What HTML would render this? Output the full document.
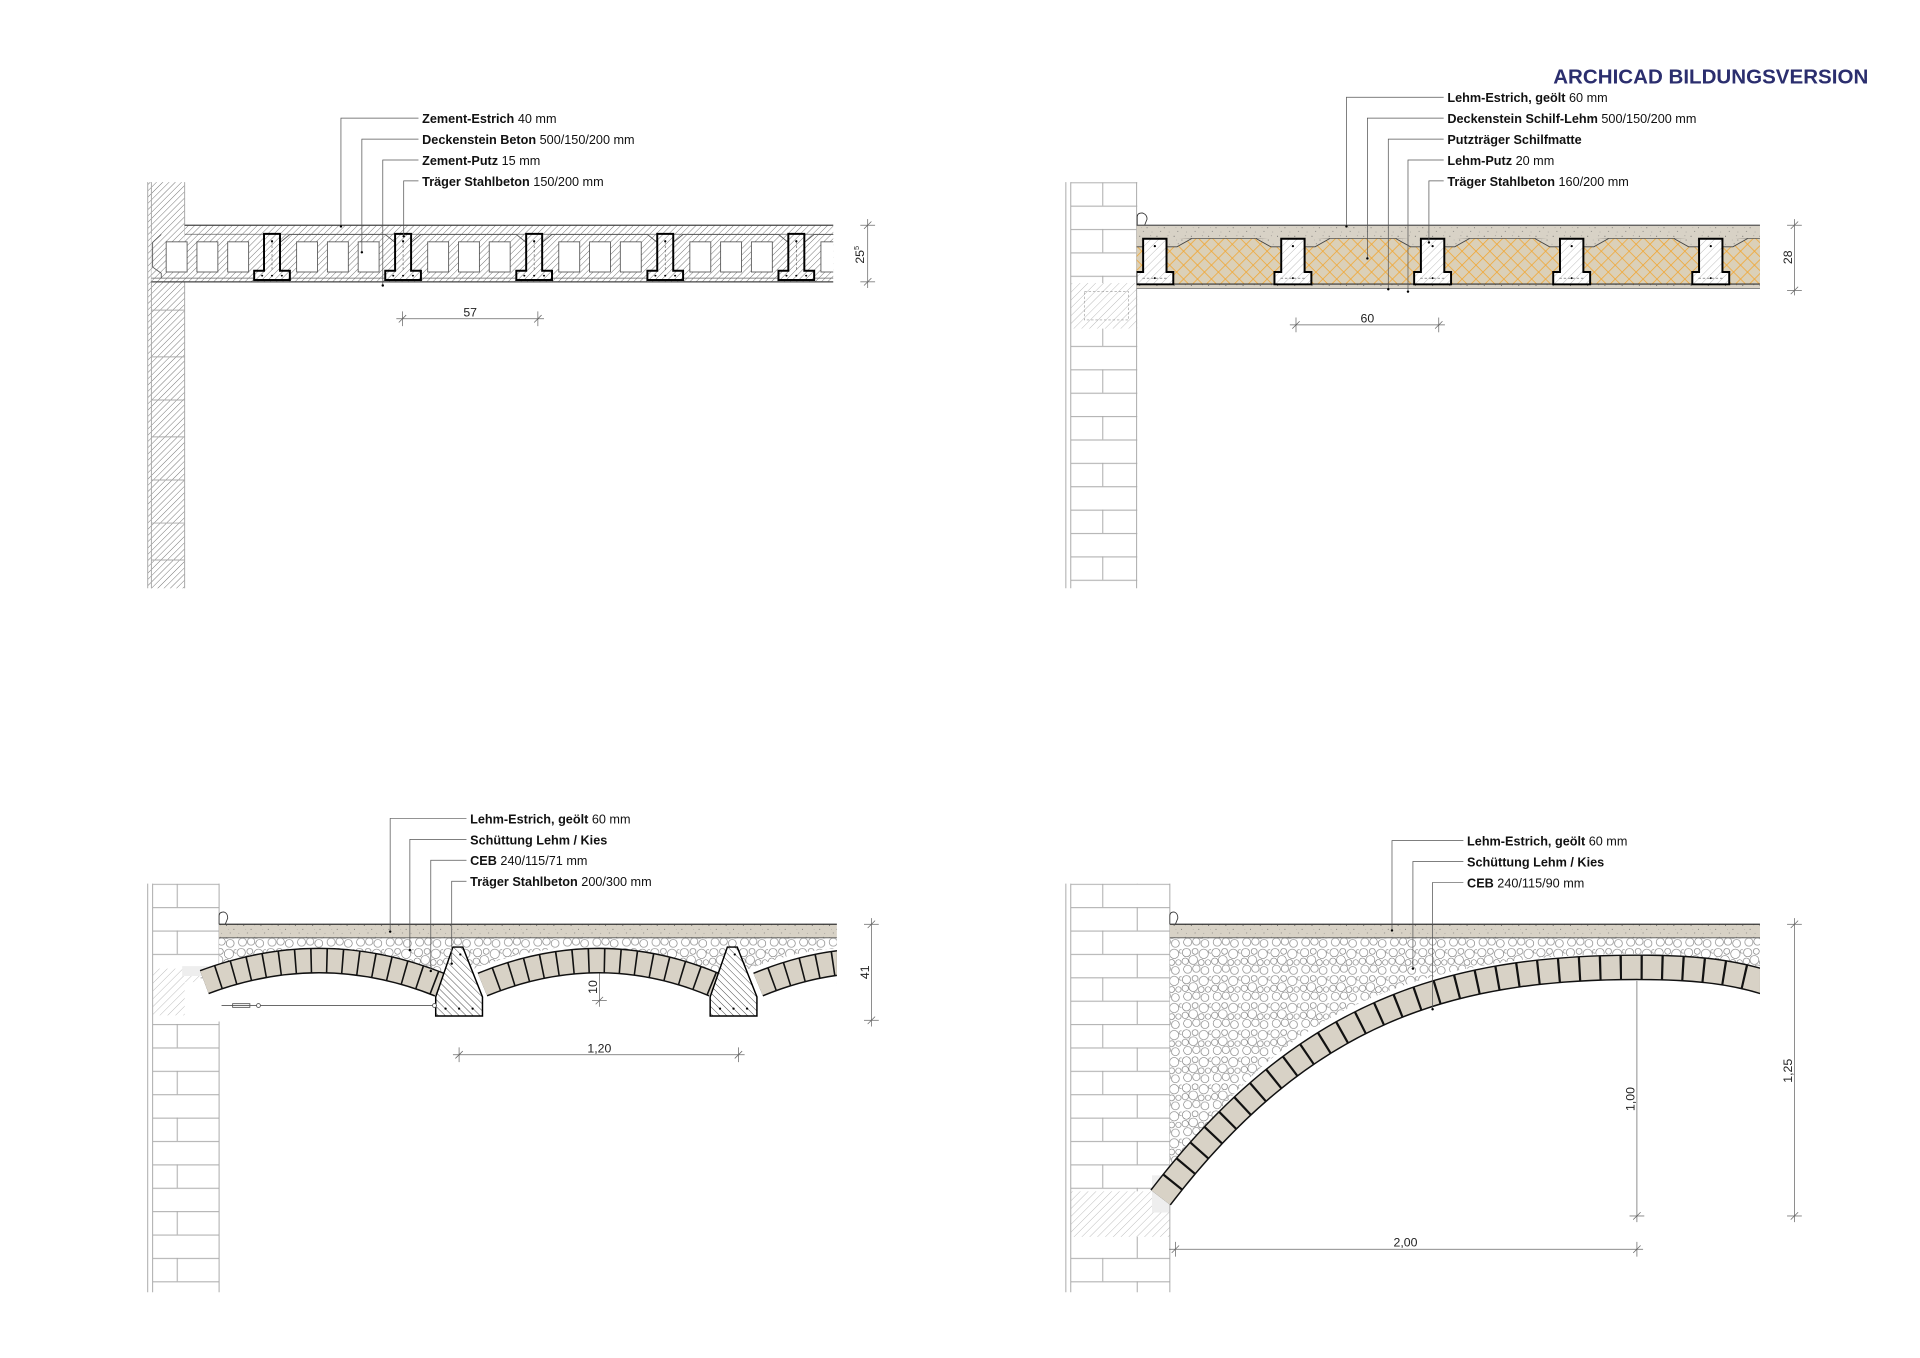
<!DOCTYPE html>
<html><head><meta charset="utf-8"><style>
html,body{margin:0;padding:0;background:#fff;}
svg{display:block;}
text{font-family:"Liberation Sans",sans-serif;}
</style></head><body>
<svg width="1920" height="1358" viewBox="0 0 1560 1103.4" xmlns="http://www.w3.org/2000/svg">
<defs>
<pattern id="h" width="3.6" height="3.6" patternUnits="userSpaceOnUse" patternTransform="rotate(45)"><rect width="3.6" height="3.6" fill="#fff"/><line x1="0" y1="0" x2="0" y2="3.6" stroke="#777" stroke-width="0.8"/></pattern>
<pattern id="hl" width="4.5" height="4.5" patternUnits="userSpaceOnUse" patternTransform="rotate(45)"><rect width="4.5" height="4.5" fill="#fff"/><line x1="0" y1="0" x2="0" y2="4.5" stroke="#a8a8a8" stroke-width="0.6"/></pattern>
<pattern id="hd" width="4" height="4" patternUnits="userSpaceOnUse" patternTransform="rotate(-45)"><rect width="4" height="4" fill="#fff"/><line x1="0" y1="0" x2="0" y2="4" stroke="#333" stroke-width="0.7"/></pattern>
<pattern id="sp" width="14" height="10" patternUnits="userSpaceOnUse"><rect width="14" height="10" fill="#d8d2c6"/><circle cx="2" cy="2" r="0.4" fill="#555"/><circle cx="8" cy="5" r="0.35" fill="#444"/><circle cx="11" cy="1.5" r="0.3" fill="#666"/><circle cx="5" cy="8" r="0.35" fill="#555"/><circle cx="12" cy="8.5" r="0.3" fill="#777"/><circle cx="3.5" cy="5" r="0.25" fill="#777"/></pattern>
<pattern id="gr" width="24" height="22" patternUnits="userSpaceOnUse"><rect width="24" height="22" fill="#fff"/><g fill="none" stroke="#666" stroke-width="0.45"><circle cx="4" cy="4" r="3.4"/><circle cx="11" cy="3" r="2.4"/><circle cx="18" cy="5" r="3.8"/><circle cx="3" cy="11" r="2.6"/><circle cx="9.5" cy="10" r="3.6"/><circle cx="16" cy="12" r="2.4"/><circle cx="21.5" cy="12" r="2.2"/><circle cx="5" cy="17.5" r="3.3"/><circle cx="12" cy="17" r="3"/><circle cx="19" cy="18.5" r="3.2"/><circle cx="23.5" cy="3" r="1.5"/></g></pattern>
<pattern id="yx" width="8" height="8" patternUnits="userSpaceOnUse" patternTransform="rotate(45)"><rect width="8" height="8" fill="#dbd0b8"/><line x1="0" y1="0" x2="8" y2="0" stroke="#f2a52e" stroke-width="1.2"/><line x1="0" y1="0" x2="0" y2="8" stroke="#f2a52e" stroke-width="1.2"/></pattern>
<pattern id="brA" width="84" height="38" patternUnits="userSpaceOnUse" x="866" y="148"><rect width="84" height="38" fill="#fff"/><g stroke="#aaa" stroke-width="0.8"><line x1="0" y1="0.5" x2="84" y2="0.5"/><line x1="0" y1="19.5" x2="84" y2="19.5"/><line x1="30" y1="0" x2="30" y2="19"/><line x1="58" y1="19" x2="58" y2="38"/></g></pattern>
<pattern id="brB" width="58" height="38" patternUnits="userSpaceOnUse" x="120" y="718"><rect width="58" height="38" fill="#fff"/><g stroke="#aaa" stroke-width="0.8"><line x1="0" y1="0.5" x2="58" y2="0.5"/><line x1="0" y1="19.5" x2="58" y2="19.5"/><line x1="24" y1="0" x2="24" y2="19"/></g></pattern>
<pattern id="brC" width="58" height="38" patternUnits="userSpaceOnUse" x="866" y="148"><rect width="58" height="38" fill="#fff"/><g stroke="#aaa" stroke-width="0.8"><line x1="0" y1="0.5" x2="58" y2="0.5"/><line x1="0" y1="19.5" x2="58" y2="19.5"/><line x1="30" y1="0" x2="30" y2="19"/></g></pattern>
<clipPath id="c1"><rect x="118" y="140" width="559" height="100"/></clipPath>
<clipPath id="c2"><rect x="923.5" y="140" width="506.5" height="100"/></clipPath>
<clipPath id="c3"><rect x="150" y="740" width="530" height="100"/></clipPath>
<clipPath id="c4"><rect x="930" y="740" width="500" height="260"/></clipPath>
<g id="tb"><path d="M-6.5,190 H6.5 V220 H14.5 V227.5 H-14.5 V220 H-6.5 Z" fill="url(#h)" stroke="#000" stroke-width="1.6"/><line x1="0" y1="196" x2="0" y2="219" stroke="#555" stroke-width="0.5" stroke-dasharray="2 1.5"/><circle cx="0" cy="196" r="0.9"/><circle cx="-8" cy="224" r="0.8"/><circle cx="0" cy="224" r="0.8"/><circle cx="8" cy="224" r="0.8"/></g>
<g id="blk" fill="none" stroke="#555" stroke-width="0.7"><path d="M6.5,197 L14.5,190.5 H92 L100,197"/><rect x="20" y="196.5" width="17" height="24.5" fill="#fff"/><rect x="45" y="196.5" width="17" height="24.5" fill="#fff"/><rect x="70" y="196.5" width="17" height="24.5" fill="#fff"/></g>
<g id="rb"><path d="M-9.5,194 H9.5 V221 H15 V231 H-15 V221 H-9.5 Z" fill="url(#hl)" stroke="#000" stroke-width="1.6"/><circle cx="0" cy="200" r="0.9"/><circle cx="0" cy="226" r="0.8"/><line x1="-10" y1="226" x2="10" y2="226" stroke="#555" stroke-width="0.5" stroke-dasharray="2 1.5"/></g>
<g id="ch"><path d="M9.5,193 V200.5 H18 L30,193.8 Z" fill="url(#sp)"/><path d="M-9.5,193 V200.5 H-18 L-30,193.8 Z" fill="url(#sp)"/><path d="M9.5,200.5 H18 L30,193.8 M-9.5,200.5 H-18 L-30,193.8" fill="none" stroke="#444" stroke-width="0.7"/></g>
<g id="tw"><path d="M0,0 L8,0 L24,40.5 L24,56 L-14,56 L-14,40.5 Z" fill="url(#hd)" stroke="#000" stroke-width="1.2"/><circle cx="-6" cy="50" r="0.9"/><circle cx="5" cy="50" r="0.9"/><circle cx="16" cy="50" r="0.9"/><circle cx="6" cy="6" r="0.9"/></g>
</defs>

<text x="1518" y="68" text-anchor="end" font-size="16.5" font-weight="bold" fill="#2b2e6e" textLength="256" lengthAdjust="spacingAndGlyphs">ARCHICAD BILDUNGSVERSION</text>

<!-- ============ TOP LEFT ============ -->
<rect x="120" y="148" width="30" height="330" fill="url(#h)"/>
<g stroke="#aaa" stroke-width="0.8"><line x1="120" y1="148" x2="120" y2="478"/><line x1="123" y1="148" x2="123" y2="478"/><line x1="150" y1="148" x2="150" y2="478"/>
<line x1="123" y1="252" x2="150" y2="252"/><line x1="123" y1="290" x2="150" y2="290"/><line x1="123" y1="325" x2="150" y2="325"/><line x1="123" y1="355" x2="150" y2="355"/><line x1="123" y1="390" x2="150" y2="390"/><line x1="123" y1="425" x2="150" y2="425"/><line x1="123" y1="455" x2="150" y2="455"/></g>
<g clip-path="url(#c1)">
<rect x="150" y="183" width="530" height="46" fill="url(#h)"/>
<path d="M123,190 L150,190 L150,229 L123,229 Z" fill="url(#h)"/>
<line x1="150" y1="183" x2="680" y2="183" stroke="#444" stroke-width="1"/>
<line x1="150" y1="190.3" x2="680" y2="190.3" stroke="#666" stroke-width="0.6"/>
<line x1="123" y1="226" x2="680" y2="226" stroke="#666" stroke-width="0.6"/>
<line x1="123" y1="229" x2="680" y2="229" stroke="#444" stroke-width="1"/>
<path d="M131,190.5 L124,197 V217 L131,222 V226" fill="none" stroke="#555" stroke-width="0.7"/>
<g fill="#fff" stroke="#555" stroke-width="0.7"><rect x="135" y="196.5" width="17" height="24.5"/><rect x="160" y="196.5" width="17" height="24.5"/><rect x="185" y="196.5" width="17" height="24.5"/></g>
<use href="#blk" x="221"/><use href="#blk" x="327.5"/><use href="#blk" x="434"/><use href="#blk" x="540.5"/><use href="#blk" x="647"/>
<use href="#tb" x="221"/><use href="#tb" x="327.5"/><use href="#tb" x="434"/><use href="#tb" x="540.5"/><use href="#tb" x="647"/>
</g>
<g stroke="#555" stroke-width="0.6" fill="none">
<path d="M340,96 H277 V184"/><path d="M340,113 H294 V205"/><path d="M340,130 H311 V232"/><path d="M340,147 H328 V192"/>
</g>
<g fill="#000"><circle cx="277" cy="184" r="1"/><circle cx="294" cy="205" r="1"/><circle cx="311" cy="232" r="1"/><circle cx="328" cy="192" r="1"/></g>
<g font-size="10.3" fill="#111">
<text x="343" y="100"><tspan font-weight="bold">Zement-Estrich</tspan> 40 mm</text>
<text x="343" y="117"><tspan font-weight="bold">Deckenstein Beton</tspan> 500/150/200 mm</text>
<text x="343" y="134"><tspan font-weight="bold">Zement-Putz</tspan> 15 mm</text>
<text x="343" y="151"><tspan font-weight="bold">Träger Stahlbeton</tspan> 150/200 mm</text>
</g>
<g stroke="#666" stroke-width="0.6"><line x1="322" y1="259" x2="442" y2="259"/><line x1="327" y1="253" x2="327" y2="265"/><line x1="437" y1="253" x2="437" y2="265"/><line x1="324" y1="262" x2="330" y2="256"/><line x1="434" y1="262" x2="440" y2="256"/>
<line x1="705" y1="178" x2="705" y2="234"/><line x1="699" y1="183" x2="711" y2="183"/><line x1="699" y1="229" x2="711" y2="229"/><line x1="702" y1="186" x2="708" y2="180"/><line x1="702" y1="232" x2="708" y2="226"/></g>
<text x="382" y="257" font-size="10" text-anchor="middle" fill="#222">57</text>
<text transform="translate(702,207) rotate(-90)" font-size="10" text-anchor="middle" fill="#222">25<tspan font-size="6" dy="-4">5</tspan></text>

<!-- ============ TOP RIGHT ============ -->
<rect x="870" y="148" width="54" height="330" fill="url(#brC)"/>
<rect x="870" y="230" width="54" height="37" fill="url(#hl)"/>
<rect x="881" y="237" width="36" height="23" fill="none" stroke="#999" stroke-width="0.5" stroke-dasharray="2 1.5"/>
<g stroke="#aaa" stroke-width="0.8"><line x1="866" y1="148" x2="866" y2="478"/><line x1="870" y1="148" x2="870" y2="478"/><line x1="923.5" y1="148" x2="923.5" y2="478"/></g>
<path d="M924,183 V176 Q924,173 928,173 Q932,174 932,178 L930,183" fill="#fff" stroke="#333" stroke-width="0.7"/>
<g clip-path="url(#c2)">
<rect x="923.5" y="183" width="507" height="51" fill="url(#sp)"/>
<rect x="923.5" y="193.5" width="507" height="37" fill="url(#yx)"/>
<line x1="923.5" y1="193.8" x2="1430" y2="193.8" stroke="#555" stroke-width="0.6"/>
<use href="#ch" x="938.3"/><use href="#ch" x="1050.5"/><use href="#ch" x="1164"/><use href="#ch" x="1277"/><use href="#ch" x="1390"/>
<line x1="923.5" y1="183" x2="1430" y2="183" stroke="#555" stroke-width="1"/>
<line x1="923.5" y1="230.8" x2="1430" y2="230.8" stroke="#333" stroke-width="0.9"/>
<line x1="923.5" y1="234.5" x2="1430" y2="234.5" stroke="#777" stroke-width="0.7"/>
<use href="#rb" x="938.3"/><use href="#rb" x="1050.5"/><use href="#rb" x="1164"/><use href="#rb" x="1277"/><use href="#rb" x="1390"/>
</g>
<g stroke="#555" stroke-width="0.6" fill="none">
<path d="M1173,79 H1094 V184"/><path d="M1173,96 H1111 V210"/><path d="M1173,113 H1128 V235"/><path d="M1173,130 H1144 V237"/><path d="M1173,147 H1161 V196"/>
</g>
<g fill="#000"><circle cx="1094" cy="184" r="1"/><circle cx="1111" cy="210" r="1"/><circle cx="1128" cy="235" r="1"/><circle cx="1144" cy="237" r="1"/><circle cx="1161" cy="197" r="1"/></g>
<g font-size="10.3" fill="#111">
<text x="1176" y="83"><tspan font-weight="bold">Lehm-Estrich, geölt</tspan> 60 mm</text>
<text x="1176" y="100"><tspan font-weight="bold">Deckenstein Schilf-Lehm</tspan> 500/150/200 mm</text>
<text x="1176" y="117"><tspan font-weight="bold">Putzträger Schilfmatte</tspan></text>
<text x="1176" y="134"><tspan font-weight="bold">Lehm-Putz</tspan> 20 mm</text>
<text x="1176" y="151"><tspan font-weight="bold">Träger Stahlbeton</tspan> 160/200 mm</text>
</g>
<g stroke="#666" stroke-width="0.6"><line x1="1048" y1="264" x2="1174" y2="264"/><line x1="1053" y1="258" x2="1053" y2="270"/><line x1="1169" y1="258" x2="1169" y2="270"/><line x1="1050" y1="267" x2="1056" y2="261"/><line x1="1166" y1="267" x2="1172" y2="261"/>
<line x1="1458" y1="178" x2="1458" y2="240"/><line x1="1452" y1="183" x2="1464" y2="183"/><line x1="1452" y1="236" x2="1464" y2="236"/><line x1="1455" y1="186" x2="1461" y2="180"/><line x1="1455" y1="239" x2="1461" y2="233"/></g>
<text x="1111" y="262" font-size="10" text-anchor="middle" fill="#222">60</text>
<text transform="translate(1456,209) rotate(-90)" font-size="10" text-anchor="middle" fill="#222">28</text>

<!-- ============ BOTTOM LEFT ============ -->
<rect x="124" y="718" width="54" height="332" fill="url(#brB)"/>
<rect x="124" y="787" width="39" height="38" fill="url(#hl)"/>
<rect x="163" y="805" width="15" height="20" fill="url(#hl)"/>
<rect x="148" y="785" width="30" height="8" fill="#eee"/>
<g stroke="#aaa" stroke-width="0.8"><line x1="120" y1="718" x2="120" y2="1050"/><line x1="124" y1="718" x2="124" y2="1050"/><line x1="178" y1="718" x2="178" y2="1050"/></g>
<path d="M178,751 V744 Q178,741 182,741 Q185,742 185,746 L183,751" fill="#fff" stroke="#333" stroke-width="0.7"/>
<g clip-path="url(#c3)">
<rect x="178" y="751" width="502" height="11" fill="url(#sp)"/>
<rect x="178" y="762" width="502" height="40" fill="url(#gr)"/>
<path d="M150,830 L150,798 L166,798 Q262,752 357,800 Q474,740 580,800 Q697,740 804,800 L804,830 Z" fill="#fff"/>
<g fill="none">
<path d="M166,798 Q262,762 357,800" stroke="#111" stroke-width="21"/>
<path d="M166,798 Q262,762 357,800" stroke="#d8d2c6" stroke-width="18.6" stroke-dasharray="11.5 1.3"/>
<path d="M392,800 Q487,761 580,800" stroke="#111" stroke-width="21"/>
<path d="M392,800 Q487,761 580,800" stroke="#d8d2c6" stroke-width="18.6" stroke-dasharray="11.5 1.3"/>
<path d="M616,800 Q710,761 804,800" stroke="#111" stroke-width="21"/>
<path d="M616,800 Q710,761 804,800" stroke="#d8d2c6" stroke-width="18.6" stroke-dasharray="11.5 1.3"/>
</g>
<line x1="178" y1="751" x2="680" y2="751" stroke="#333" stroke-width="1"/>
<line x1="178" y1="762" x2="680" y2="762" stroke="#555" stroke-width="0.7"/>
<use href="#tw" x="368" y="769.5"/><use href="#tw" x="591" y="769.5"/>
</g>
<g stroke="#555" stroke-width="0.7" fill="none"><line x1="180" y1="817" x2="355" y2="817"/><rect x="189" y="815.5" width="14" height="3"/><circle cx="210" cy="817" r="1.6" fill="#fff"/><circle cx="353" cy="817" r="1.6" fill="#fff"/></g>
<g stroke="#555" stroke-width="0.6" fill="none">
<path d="M379,665 H317 V757"/><path d="M379,682 H333 V772"/><path d="M379,699 H350 V789"/><path d="M379,716 H367 V783"/>
</g>
<g fill="#000"><circle cx="317" cy="757" r="1"/><circle cx="333" cy="772" r="1"/><circle cx="350" cy="789" r="1"/><circle cx="367" cy="783" r="1"/></g>
<g font-size="10.3" fill="#111">
<text x="382" y="669"><tspan font-weight="bold">Lehm-Estrich, geölt</tspan> 60 mm</text>
<text x="382" y="686"><tspan font-weight="bold">Schüttung Lehm / Kies</tspan></text>
<text x="382" y="703"><tspan font-weight="bold">CEB</tspan> 240/115/71 mm</text>
<text x="382" y="720"><tspan font-weight="bold">Träger Stahlbeton</tspan> 200/300 mm</text>
</g>
<g stroke="#666" stroke-width="0.6"><line x1="368" y1="857" x2="605" y2="857"/><line x1="373" y1="851" x2="373" y2="863"/><line x1="600" y1="851" x2="600" y2="863"/><line x1="370" y1="860" x2="376" y2="854"/><line x1="597" y1="860" x2="603" y2="854"/>
<line x1="487" y1="791" x2="487" y2="818"/><line x1="481" y1="813" x2="493" y2="813"/><line x1="484" y1="816" x2="490" y2="810"/>
<line x1="708" y1="746" x2="708" y2="834"/><line x1="702" y1="751" x2="714" y2="751"/><line x1="702" y1="829" x2="714" y2="829"/><line x1="705" y1="754" x2="711" y2="748"/><line x1="705" y1="832" x2="711" y2="826"/></g>
<text x="487" y="855" font-size="10" text-anchor="middle" fill="#222">1,20</text>
<text transform="translate(485,802) rotate(-90)" font-size="10" text-anchor="middle" fill="#222">10</text>
<text transform="translate(706,790) rotate(-90)" font-size="10" text-anchor="middle" fill="#222">41</text>

<!-- ============ BOTTOM RIGHT ============ -->
<rect x="870" y="718" width="80.5" height="332" fill="url(#brA)"/>
<rect x="870" y="968" width="66" height="37" fill="url(#hl)"/>
<rect x="936" y="985" width="14.5" height="20" fill="url(#hl)"/>
<rect x="936" y="955" width="14.5" height="30" fill="#eee"/>
<g stroke="#aaa" stroke-width="0.8"><line x1="866" y1="718" x2="866" y2="1050"/><line x1="870" y1="718" x2="870" y2="1050"/><line x1="950.5" y1="718" x2="950.5" y2="1050"/></g>
<path d="M950.5,751 V744 Q950.5,741 954,741 Q957,742 957,746 L955,751" fill="#fff" stroke="#333" stroke-width="0.7"/>
<g clip-path="url(#c4)">
<path d="M950.5,762 H1430 V800 C1400,780 1380,775 1330,775 C1180,775 1040,805 950.5,960 Z" fill="url(#gr)"/>
<rect x="950.5" y="751" width="480" height="11" fill="url(#sp)"/>
<path d="M943,973 C1060,820 1180,786 1330,786 C1380,786 1410,790 1440,800" fill="none" stroke="#111" stroke-width="21"/>
<path d="M943,973 C1060,820 1180,786 1330,786 C1380,786 1410,790 1440,800" fill="none" stroke="#d8d2c6" stroke-width="18.6" stroke-dasharray="15 1.8"/>
<line x1="950.5" y1="751" x2="1430" y2="751" stroke="#333" stroke-width="1"/>
<line x1="950.5" y1="762" x2="1430" y2="762" stroke="#555" stroke-width="0.7"/>
</g>
<g stroke="#555" stroke-width="0.6" fill="none">
<path d="M1189,683 H1131 V756"/><path d="M1189,700 H1148 V787"/><path d="M1189,717 H1164 V820"/>
</g>
<g fill="#000"><circle cx="1131" cy="756" r="1"/><circle cx="1148" cy="787" r="1"/><circle cx="1164" cy="820" r="1"/></g>
<g font-size="10.3" fill="#111">
<text x="1192" y="687"><tspan font-weight="bold">Lehm-Estrich, geölt</tspan> 60 mm</text>
<text x="1192" y="704"><tspan font-weight="bold">Schüttung Lehm / Kies</tspan></text>
<text x="1192" y="721"><tspan font-weight="bold">CEB</tspan> 240/115/90 mm</text>
</g>
<g stroke="#666" stroke-width="0.6"><line x1="950" y1="1015" x2="1335" y2="1015"/><line x1="955" y1="1009" x2="955" y2="1021"/><line x1="1330" y1="1009" x2="1330" y2="1021"/><line x1="952" y1="1018" x2="958" y2="1012"/><line x1="1327" y1="1018" x2="1333" y2="1012"/>
<line x1="1330" y1="797" x2="1330" y2="993"/><line x1="1324" y1="988" x2="1336" y2="988"/><line x1="1327" y1="991" x2="1333" y2="985"/>
<line x1="1458" y1="746" x2="1458" y2="993"/><line x1="1452" y1="751" x2="1464" y2="751"/><line x1="1452" y1="988" x2="1464" y2="988"/><line x1="1455" y1="754" x2="1461" y2="748"/><line x1="1455" y1="991" x2="1461" y2="985"/></g>
<text x="1142" y="1013" font-size="10" text-anchor="middle" fill="#222">2,00</text>
<text transform="translate(1328,893) rotate(-90)" font-size="10" text-anchor="middle" fill="#222">1,00</text>
<text transform="translate(1456,870) rotate(-90)" font-size="10" text-anchor="middle" fill="#222">1,25</text>
</svg>
</body></html>
